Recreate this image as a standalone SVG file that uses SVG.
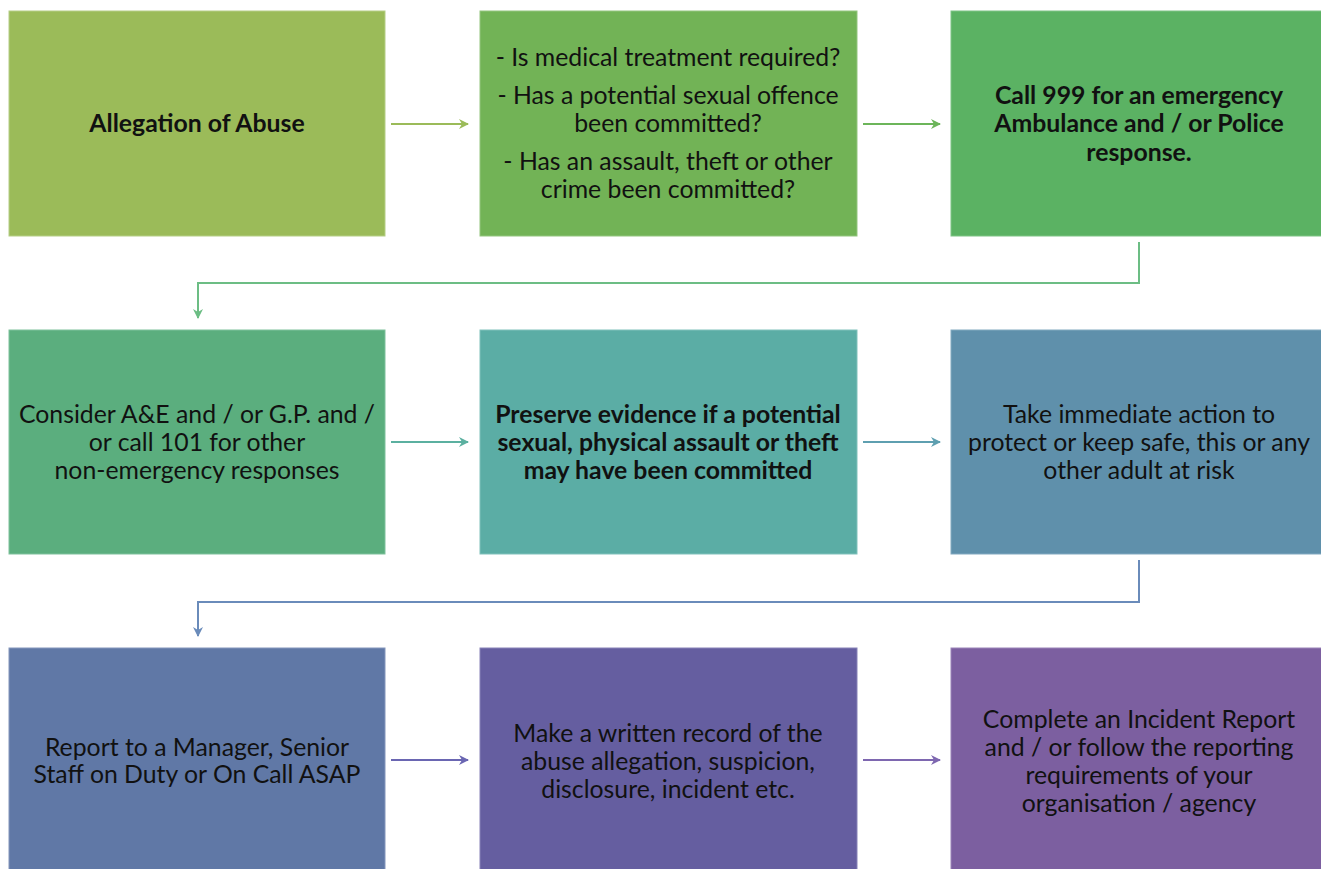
<svg xmlns="http://www.w3.org/2000/svg" width="1321" height="869" viewBox="0 0 1321 869">
<style>
.t{font-family:Lato,"Liberation Sans",sans-serif;font-size:24.8px;fill:#111;text-anchor:middle}
.b{font-weight:bold}
.c{fill:none;stroke-width:2}
</style>
<defs>
<marker id="ah" viewBox="0 0 10 10" refX="9" refY="5" markerWidth="5" markerHeight="5" orient="auto" markerUnits="strokeWidth">
<path d="M0,0 L10,5 L0,10 L3,5 Z" fill="context-stroke"/>
</marker>
</defs>
<rect width="1321" height="869" fill="#fff"/>
<g id="n1"><rect x="9" y="11" width="376" height="225" fill="#9BBB59" stroke="#B5CE86"/>
<text class="t b" x="197" y="132">Allegation of Abuse</text></g>
<g id="n2"><rect x="480" y="11" width="377" height="225" fill="#72B356" stroke="#93C57E"/>
<text class="t" x="668" y="66">- Is medical treatment required?</text>
<text class="t" x="668" y="104">- Has a potential sexual offence</text>
<text class="t" x="668" y="132">been committed?</text>
<text class="t" x="668" y="170">- Has an assault, theft or other</text>
<text class="t" x="668" y="198">crime been committed?</text></g>
<g id="n3"><rect x="951" y="11" width="376" height="225" fill="#5BB263" stroke="#7EC485"/>
<text class="t b" x="1139" y="104">Call 999 for an emergency</text>
<text class="t b" x="1139" y="132">Ambulance and / or Police</text>
<text class="t b" x="1139" y="161">response.</text></g>
<g id="n4"><rect x="9" y="330" width="376" height="224" fill="#5BAE7E" stroke="#7FC19C"/>
<text class="t" x="197" y="423">Consider A&amp;E and / or G.P. and /</text>
<text class="t" x="197" y="451">or call 101 for other</text>
<text class="t" x="197" y="479">non-emergency responses</text></g>
<g id="n5"><rect x="480" y="330" width="377" height="224" fill="#5BADA5" stroke="#80C1BB"/>
<text class="t b" x="668" y="423">Preserve evidence if a potential</text>
<text class="t b" x="668" y="451">sexual, physical assault or theft</text>
<text class="t b" x="668" y="479">may have been committed</text></g>
<g id="n6"><rect x="951" y="330" width="376" height="224" fill="#5F90AB" stroke="#82A9C0"/>
<text class="t" x="1139" y="423">Take immediate action to</text>
<text class="t" x="1139" y="451">protect or keep safe, this or any</text>
<text class="t" x="1139" y="479">other adult at risk</text></g>
<g id="n7"><rect x="9" y="648" width="376" height="226" fill="#6078A6" stroke="#8496BC"/>
<text class="t" x="197" y="756">Report to a Manager, Senior</text>
<text class="t" x="197" y="783">Staff on Duty or On Call ASAP</text></g>
<g id="n8"><rect x="480" y="648" width="377" height="226" fill="#655EA0" stroke="#8782B7"/>
<text class="t" x="668" y="742">Make a written record of the</text>
<text class="t" x="668" y="770">abuse allegation, suspicion,</text>
<text class="t" x="668" y="798">disclosure, incident etc.</text></g>
<g id="n9"><rect x="951" y="648" width="376" height="226" fill="#7C5FA0" stroke="#9A83B7"/>
<text class="t" x="1139" y="728">Complete an Incident Report</text>
<text class="t" x="1139" y="756">and / or follow the reporting</text>
<text class="t" x="1139" y="784">requirements of your</text>
<text class="t" x="1139" y="812">organisation / agency</text></g>
<g id="connectors">
<path class="c" d="M391,124 H468" stroke="#9BBB59" marker-end="url(#ah)"/>
<path class="c" d="M863,124 H940" stroke="#6CB55A" marker-end="url(#ah)"/>
<path class="c" d="M1139,242 V283 H198 V318" stroke="#6CBD84" marker-end="url(#ah)"/>
<path class="c" d="M391,442 H468" stroke="#5BB0A0" marker-end="url(#ah)"/>
<path class="c" d="M863,442 H940" stroke="#5E9FB0" marker-end="url(#ah)"/>
<path class="c" d="M1139,560 V602 H198 V636" stroke="#6A8BBA" marker-end="url(#ah)"/>
<path class="c" d="M391,760 H468" stroke="#6A66B2" marker-end="url(#ah)"/>
<path class="c" d="M863,760 H940" stroke="#7E67B0" marker-end="url(#ah)"/>
</g>
</svg>
